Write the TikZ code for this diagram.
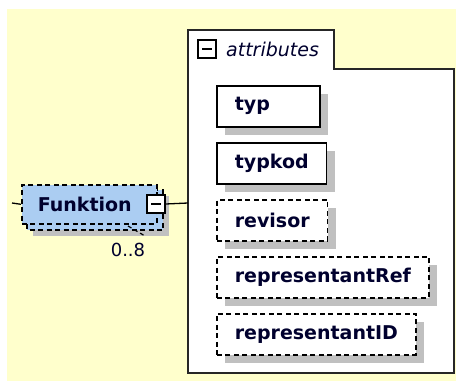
\documentclass[tikz,border=0pt]{standalone}
\usepackage{fontspec}
\setmainfont{DejaVu Sans}
\usepackage{tikz}
\usetikzlibrary{calc, shadows}
\definecolor{xsdYellow}{HTML}{FFFFCC}
\definecolor{xsdBlue}{HTML}{ABCDF2}
\definecolor{xsdShadow}{HTML}{C0C0C0}
\definecolor{xsdInk}{HTML}{00002E}
\tikzset{
  attr/.style={draw=black, line width=1.6pt, fill=white, anchor=north west,
    minimum height=41pt, inner xsep=18pt, inner ysep=0pt, text=xsdInk, align=left,
    font=\fontsize{19}{21}\selectfont\bfseries,
    drop shadow={shadow xshift=8pt, shadow yshift=-8pt, fill=xsdShadow, opacity=1}},
  optattr/.style={attr, dash pattern=on 5pt off 3.5pt},
  elem/.style={draw=black, fill=xsdBlue, line width=1.6pt, dash pattern=on 5pt off 3.5pt},
  minusbox/.style={draw=black, line width=1.3pt, fill=white, minimum size=18pt, inner sep=0pt,
    path picture={\draw[line width=1.4pt] ($(path picture bounding box.west)+(4pt,0)$) -- ($(path picture bounding box.east)+(-4pt,0)$);}},
}

\begin{document}
\begin{tikzpicture}[x=1pt, y=-1pt]
  \useasboundingbox (0,0) rectangle (456,381);
  \fill[xsdYellow] (7,9) rectangle (456,381);

  % attribute group frame
  \draw[line width=2.2pt, draw=black!85, fill=white] (188,30) -- (334,30) -- (334,69) -- (454,69) -- (454,373) -- (188,373) -- cycle;
  \coordinate (frin) at (188,203);
  \node[minusbox] (hm) at (207,49) {};
  \node[anchor=west, inner sep=0pt, text=xsdInk, font=\fontsize{19}{21}\selectfont\itshape] (hd) at (226,49) {attributes};

  \node[attr, text width=67pt] (typ) at (216,85) {typ};
  \node[attr] (typkod) at (216,142) {typkod};
  \node[optattr] (revisor) at (216,199) {revisor};
  \node[optattr] (repref) at (216,256) {representantRef};
  \node[optattr] (repid) at (216,313) {representantID};

  % element Funktion, 0..8
  \fill[xsdShadow] (33,196) rectangle (169,236);
  \draw[elem] (27,190) rectangle (163,230);
  \node[elem, anchor=north west, minimum width=135pt, minimum height=39pt, text width=103pt,
    inner xsep=16pt, inner ysep=0pt, align=left, text=xsdInk,
    font=\fontsize{19}{21}\selectfont\bfseries] (fn) at (21,184) {Funktion};
  \draw[line width=1.2pt, dash pattern=on 4pt off 3pt] (128,226) -- (145,236);
  \node[text=xsdInk, inner sep=0pt, font=\fontsize{18}{20}\selectfont] (occ) at (128,250) {0..8};
  \node[minusbox] (fnm) at (156,204) {};

  \coordinate (lin) at (12,203);
  \draw[line width=1.3pt] (lin) -- (fn.west);
  \draw[line width=1.3pt] (fnm.east) -- (frin);
\end{tikzpicture}
\end{document}
